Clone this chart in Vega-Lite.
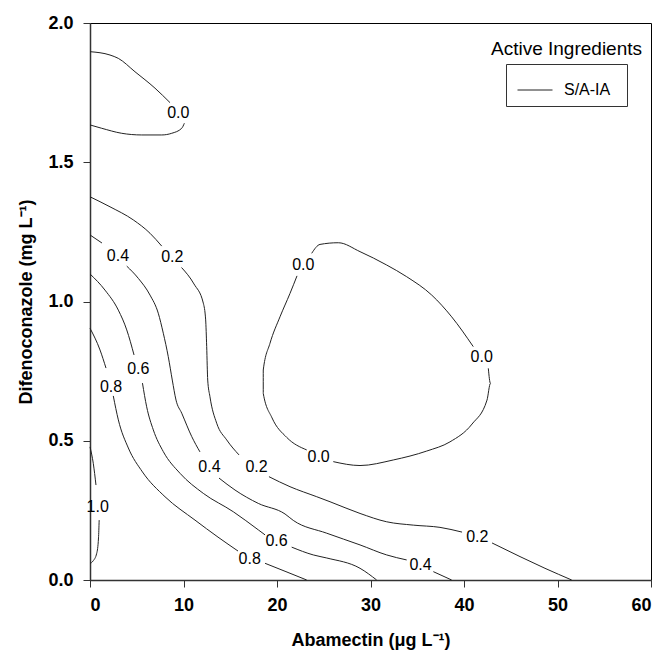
{
  "$schema": "https://vega.github.io/schema/vega-lite/v6.json",
  "width": 561,
  "height": 557,
  "autosize": "none",
  "padding": {"left": 90, "top": 23, "right": 12, "bottom": 75},
  "config": {
    "view": {"stroke": "#000", "strokeWidth": 1},
    "axis": {
      "labelFont": "Liberation Sans", "labelFontWeight": "bold", "labelFontSize": 18, "labelColor": "#000",
      "titleFont": "Liberation Sans", "titleFontWeight": "bold", "titleFontSize": 18, "titleColor": "#000",
      "domainColor": "#333", "domainWidth": 1.5, "tickColor": "#333", "tickSize": 7, "grid": false
    }
  },
  "datasets": {
    "lines": [
      {"series":"S/A-IA","seg":"t0a","o":1,"x":0,"y":1.897},
      {"series":"S/A-IA","seg":"t0a","o":2,"x":2.14,"y":1.885},
      {"series":"S/A-IA","seg":"t0a","o":3,"x":3.03,"y":1.873},
      {"series":"S/A-IA","seg":"t0a","o":4,"x":4.81,"y":1.825},
      {"series":"S/A-IA","seg":"t0a","o":5,"x":6.95,"y":1.766},
      {"series":"S/A-IA","seg":"t0a","o":6,"x":8.56,"y":1.714},
      {"series":"S/A-IA","seg":"t0b","o":1,"x":10.09,"y":1.640},
      {"series":"S/A-IA","seg":"t0b","o":2,"x":9.81,"y":1.622},
      {"series":"S/A-IA","seg":"t0b","o":3,"x":8.74,"y":1.604},
      {"series":"S/A-IA","seg":"t0b","o":4,"x":7.67,"y":1.598},
      {"series":"S/A-IA","seg":"t0b","o":5,"x":5.53,"y":1.598},
      {"series":"S/A-IA","seg":"t0b","o":6,"x":3.39,"y":1.604},
      {"series":"S/A-IA","seg":"t0b","o":7,"x":1.25,"y":1.622},
      {"series":"S/A-IA","seg":"t0b","o":8,"x":0,"y":1.634},

      {"series":"S/A-IA","seg":"i0a","o":1,"x":23.71,"y":1.173},
      {"series":"S/A-IA","seg":"i0a","o":2,"x":24.60,"y":1.205},
      {"series":"S/A-IA","seg":"i0a","o":3,"x":26.56,"y":1.211},
      {"series":"S/A-IA","seg":"i0a","o":4,"x":28.88,"y":1.179},
      {"series":"S/A-IA","seg":"i0a","o":5,"x":31.73,"y":1.131},
      {"series":"S/A-IA","seg":"i0a","o":6,"x":33.87,"y":1.089},
      {"series":"S/A-IA","seg":"i0a","o":7,"x":36.55,"y":1.023},
      {"series":"S/A-IA","seg":"i0a","o":8,"x":38.68,"y":0.945},
      {"series":"S/A-IA","seg":"i0a","o":9,"x":40.99,"y":0.838},
      {"series":"S/A-IA","seg":"i0b","o":1,"x":42.60,"y":0.760},
      {"series":"S/A-IA","seg":"i0b","o":2,"x":42.83,"y":0.706},
      {"series":"S/A-IA","seg":"i0b","o":3,"x":42.46,"y":0.646},
      {"series":"S/A-IA","seg":"i0b","o":4,"x":40.86,"y":0.560},
      {"series":"S/A-IA","seg":"i0b","o":5,"x":38.50,"y":0.496},
      {"series":"S/A-IA","seg":"i0b","o":6,"x":36.01,"y":0.463},
      {"series":"S/A-IA","seg":"i0b","o":7,"x":32.44,"y":0.431},
      {"series":"S/A-IA","seg":"i0b","o":8,"x":28.88,"y":0.411},
      {"series":"S/A-IA","seg":"i0b","o":9,"x":26.02,"y":0.425},
      {"series":"S/A-IA","seg":"i0c","o":1,"x":23.18,"y":0.467},
      {"series":"S/A-IA","seg":"i0c","o":2,"x":21.04,"y":0.512},
      {"series":"S/A-IA","seg":"i0c","o":3,"x":19.47,"y":0.582},
      {"series":"S/A-IA","seg":"i0c","o":4,"x":18.53,"y":0.670},
      {"series":"S/A-IA","seg":"i0c","o":5,"x":18.53,"y":0.754},
      {"series":"S/A-IA","seg":"i0c","o":6,"x":19.25,"y":0.850},
      {"series":"S/A-IA","seg":"i0c","o":7,"x":20.32,"y":0.945},
      {"series":"S/A-IA","seg":"i0c","o":8,"x":21.39,"y":1.029},
      {"series":"S/A-IA","seg":"i0c","o":9,"x":22.14,"y":1.092},

      {"series":"S/A-IA","seg":"c2a","o":1,"x":0,"y":1.376},
      {"series":"S/A-IA","seg":"c2a","o":2,"x":2.14,"y":1.340},
      {"series":"S/A-IA","seg":"c2a","o":3,"x":4.63,"y":1.293},
      {"series":"S/A-IA","seg":"c2a","o":4,"x":6.42,"y":1.245},
      {"series":"S/A-IA","seg":"c2a","o":5,"x":7.67,"y":1.199},
      {"series":"S/A-IA","seg":"c2b","o":1,"x":9.79,"y":1.122},
      {"series":"S/A-IA","seg":"c2b","o":2,"x":11.12,"y":1.063},
      {"series":"S/A-IA","seg":"c2b","o":3,"x":12.12,"y":0.994},
      {"series":"S/A-IA","seg":"c2b","o":4,"x":12.37,"y":0.934},
      {"series":"S/A-IA","seg":"c2b","o":5,"x":12.48,"y":0.838},
      {"series":"S/A-IA","seg":"c2b","o":6,"x":12.59,"y":0.718},
      {"series":"S/A-IA","seg":"c2b","o":7,"x":12.83,"y":0.658},
      {"series":"S/A-IA","seg":"c2b","o":8,"x":13.55,"y":0.563},
      {"series":"S/A-IA","seg":"c2b","o":9,"x":14.62,"y":0.503},
      {"series":"S/A-IA","seg":"c2b","o":10,"x":15.94,"y":0.449},
      {"series":"S/A-IA","seg":"c2c","o":1,"x":19.14,"y":0.371},
      {"series":"S/A-IA","seg":"c2c","o":2,"x":21.39,"y":0.335},
      {"series":"S/A-IA","seg":"c2c","o":3,"x":24.25,"y":0.299},
      {"series":"S/A-IA","seg":"c2c","o":4,"x":25.67,"y":0.281},
      {"series":"S/A-IA","seg":"c2c","o":5,"x":28.88,"y":0.239},
      {"series":"S/A-IA","seg":"c2c","o":6,"x":31.73,"y":0.209},
      {"series":"S/A-IA","seg":"c2c","o":7,"x":34.58,"y":0.197},
      {"series":"S/A-IA","seg":"c2c","o":8,"x":37.43,"y":0.189},
      {"series":"S/A-IA","seg":"c2c","o":9,"x":39.79,"y":0.172},
      {"series":"S/A-IA","seg":"c2d","o":1,"x":43.0,"y":0.133},
      {"series":"S/A-IA","seg":"c2d","o":2,"x":45.99,"y":0.084},
      {"series":"S/A-IA","seg":"c2d","o":3,"x":48.66,"y":0.042},
      {"series":"S/A-IA","seg":"c2d","o":4,"x":51.52,"y":0},

      {"series":"S/A-IA","seg":"c4a","o":1,"x":0,"y":1.239},
      {"series":"S/A-IA","seg":"c4a","o":2,"x":1.28,"y":1.210},
      {"series":"S/A-IA","seg":"c4b","o":1,"x":3.93,"y":1.127},
      {"series":"S/A-IA","seg":"c4b","o":2,"x":5.17,"y":1.083},
      {"series":"S/A-IA","seg":"c4b","o":3,"x":6.42,"y":1.023},
      {"series":"S/A-IA","seg":"c4b","o":4,"x":7.30,"y":0.958},
      {"series":"S/A-IA","seg":"c4b","o":5,"x":7.84,"y":0.886},
      {"series":"S/A-IA","seg":"c4b","o":6,"x":8.37,"y":0.802},
      {"series":"S/A-IA","seg":"c4b","o":7,"x":8.80,"y":0.718},
      {"series":"S/A-IA","seg":"c4b","o":8,"x":9.20,"y":0.646},
      {"series":"S/A-IA","seg":"c4b","o":9,"x":9.81,"y":0.599},
      {"series":"S/A-IA","seg":"c4b","o":10,"x":10.88,"y":0.515},
      {"series":"S/A-IA","seg":"c4b","o":11,"x":11.76,"y":0.460},
      {"series":"S/A-IA","seg":"c4c","o":1,"x":13.80,"y":0.366},
      {"series":"S/A-IA","seg":"c4c","o":2,"x":15.51,"y":0.323},
      {"series":"S/A-IA","seg":"c4c","o":3,"x":18.0,"y":0.275},
      {"series":"S/A-IA","seg":"c4c","o":4,"x":20.86,"y":0.237},
      {"series":"S/A-IA","seg":"c4c","o":5,"x":21.74,"y":0.214},
      {"series":"S/A-IA","seg":"c4c","o":6,"x":25.32,"y":0.168},
      {"series":"S/A-IA","seg":"c4c","o":7,"x":28.88,"y":0.126},
      {"series":"S/A-IA","seg":"c4c","o":8,"x":31.73,"y":0.090},
      {"series":"S/A-IA","seg":"c4c","o":9,"x":33.87,"y":0.072},
      {"series":"S/A-IA","seg":"c4d","o":1,"x":36.72,"y":0.030},
      {"series":"S/A-IA","seg":"c4d","o":2,"x":38.68,"y":0},

      {"series":"S/A-IA","seg":"c6a","o":1,"x":0,"y":1.099},
      {"series":"S/A-IA","seg":"c6a","o":2,"x":1.60,"y":1.041},
      {"series":"S/A-IA","seg":"c6a","o":3,"x":3.03,"y":0.969},
      {"series":"S/A-IA","seg":"c6a","o":4,"x":3.93,"y":0.898},
      {"series":"S/A-IA","seg":"c6a","o":5,"x":4.71,"y":0.808},
      {"series":"S/A-IA","seg":"c6b","o":1,"x":5.61,"y":0.707},
      {"series":"S/A-IA","seg":"c6b","o":2,"x":6.06,"y":0.622},
      {"series":"S/A-IA","seg":"c6b","o":3,"x":6.77,"y":0.539},
      {"series":"S/A-IA","seg":"c6b","o":4,"x":7.84,"y":0.461},
      {"series":"S/A-IA","seg":"c6b","o":5,"x":9.63,"y":0.383},
      {"series":"S/A-IA","seg":"c6b","o":6,"x":12.12,"y":0.311},
      {"series":"S/A-IA","seg":"c6b","o":7,"x":15.33,"y":0.245},
      {"series":"S/A-IA","seg":"c6b","o":8,"x":18.0,"y":0.180},
      {"series":"S/A-IA","seg":"c6b","o":9,"x":18.72,"y":0.162},
      {"series":"S/A-IA","seg":"c6c","o":1,"x":21.57,"y":0.118},
      {"series":"S/A-IA","seg":"c6c","o":2,"x":23.88,"y":0.090},
      {"series":"S/A-IA","seg":"c6c","o":3,"x":25.32,"y":0.079},
      {"series":"S/A-IA","seg":"c6c","o":4,"x":28.88,"y":0.042},
      {"series":"S/A-IA","seg":"c6c","o":5,"x":30.66,"y":0},

      {"series":"S/A-IA","seg":"c8a","o":1,"x":0,"y":0.904},
      {"series":"S/A-IA","seg":"c8a","o":2,"x":1.07,"y":0.826},
      {"series":"S/A-IA","seg":"c8a","o":3,"x":1.71,"y":0.761},
      {"series":"S/A-IA","seg":"c8b","o":1,"x":2.49,"y":0.661},
      {"series":"S/A-IA","seg":"c8b","o":2,"x":3.03,"y":0.575},
      {"series":"S/A-IA","seg":"c8b","o":3,"x":4.10,"y":0.474},
      {"series":"S/A-IA","seg":"c8b","o":4,"x":5.61,"y":0.388},
      {"series":"S/A-IA","seg":"c8b","o":5,"x":8.02,"y":0.299},
      {"series":"S/A-IA","seg":"c8b","o":6,"x":11.23,"y":0.215},
      {"series":"S/A-IA","seg":"c8b","o":7,"x":13.69,"y":0.154},
      {"series":"S/A-IA","seg":"c8b","o":8,"x":15.83,"y":0.104},
      {"series":"S/A-IA","seg":"c8c","o":1,"x":18.72,"y":0.060},
      {"series":"S/A-IA","seg":"c8c","o":2,"x":20.96,"y":0.030},
      {"series":"S/A-IA","seg":"c8c","o":3,"x":23.18,"y":0},

      {"series":"S/A-IA","seg":"c10a","o":1,"x":0,"y":0.478},
      {"series":"S/A-IA","seg":"c10a","o":2,"x":0.35,"y":0.419},
      {"series":"S/A-IA","seg":"c10a","o":3,"x":0.64,"y":0.341},
      {"series":"S/A-IA","seg":"c10b","o":1,"x":0.98,"y":0.215},
      {"series":"S/A-IA","seg":"c10b","o":2,"x":0.91,"y":0.151},
      {"series":"S/A-IA","seg":"c10b","o":3,"x":0.72,"y":0.096},
      {"series":"S/A-IA","seg":"c10b","o":4,"x":0.32,"y":0.068},
      {"series":"S/A-IA","seg":"c10b","o":5,"x":0,"y":0.059}
    ],
    "labels": [
      {"x":9.44,"y":1.676,"lab":"0.0"},
      {"x":22.81,"y":1.131,"lab":"0.0"},
      {"x":41.89,"y":0.801,"lab":"0.0"},
      {"x":24.45,"y":0.443,"lab":"0.0"},
      {"x":8.80,"y":1.161,"lab":"0.2"},
      {"x":17.81,"y":0.406,"lab":"0.2"},
      {"x":41.42,"y":0.154,"lab":"0.2"},
      {"x":2.99,"y":1.163,"lab":"0.4"},
      {"x":12.78,"y":0.406,"lab":"0.4"},
      {"x":35.35,"y":0.054,"lab":"0.4"},
      {"x":5.17,"y":0.758,"lab":"0.6"},
      {"x":19.95,"y":0.139,"lab":"0.6"},
      {"x":2.25,"y":0.694,"lab":"0.8"},
      {"x":17.08,"y":0.076,"lab":"0.8"},
      {"x":0.82,"y":0.263,"lab":"1.0"}
    ],
    "head": [
      {"x":59.04,"y":1.908,"t":"Active Ingredients"}
    ]
  },
  "layer": [
    {
      "data": {"name": "lines"},
      "mark": {"type": "line", "strokeWidth": 1, "interpolate": "monotone"},
      "encoding": {
        "x": {"field": "x", "type": "quantitative",
              "scale": {"domain": [0, 60], "nice": false, "zero": false},
              "axis": {"values": [0, 10, 20, 30, 40, 50, 60], "format": "d", "labelPadding": 9, "titlePadding": 17,
                       "title": "Abamectin (μg L⁻¹)"}},
        "y": {"field": "y", "type": "quantitative",
              "scale": {"domain": [0, 2], "nice": false, "zero": false},
              "axis": {"values": [0, 0.5, 1, 1.5, 2], "format": ".1f", "labelPadding": 10, "titlePadding": 12,
                       "title": "Difenoconazole (mg L⁻¹)"}},
        "detail": {"field": "seg"},
        "order": {"field": "o", "type": "quantitative"},
        "stroke": {"field": "series", "type": "nominal",
                   "scale": {"range": ["#222222"]},
                   "legend": {"title": "\u00a0", "titleOrient": "right", "titleFontSize": 1, "titlePadding": 9,
                              "orient": "none", "legendX": 416, "legendY": 41,
                              "strokeColor": "#333", "padding": 8, "cornerRadius": 0,
                              "symbolType": "stroke", "symbolSize": 1225, "symbolStrokeWidth": 1,
                              "symbolStrokeColor": "#444", "symbolOffset": 3,
                              "labelFont": "Liberation Sans", "labelFontSize": 16, "labelColor": "#000",
                              "labelOffset": 11}}
      }
    },
    {
      "data": {"name": "labels"},
      "mark": {"type": "text", "font": "Liberation Sans", "fontSize": 16, "align": "center", "baseline": "middle", "color": "#000"},
      "encoding": {
        "x": {"field": "x", "type": "quantitative"},
        "y": {"field": "y", "type": "quantitative"},
        "text": {"field": "lab"}
      }
    },
    {
      "data": {"name": "head"},
      "mark": {"type": "text", "font": "Liberation Sans", "fontSize": 19, "align": "right", "baseline": "middle", "color": "#000"},
      "encoding": {
        "x": {"field": "x", "type": "quantitative"},
        "y": {"field": "y", "type": "quantitative"},
        "text": {"field": "t"}
      }
    }
  ]
}
